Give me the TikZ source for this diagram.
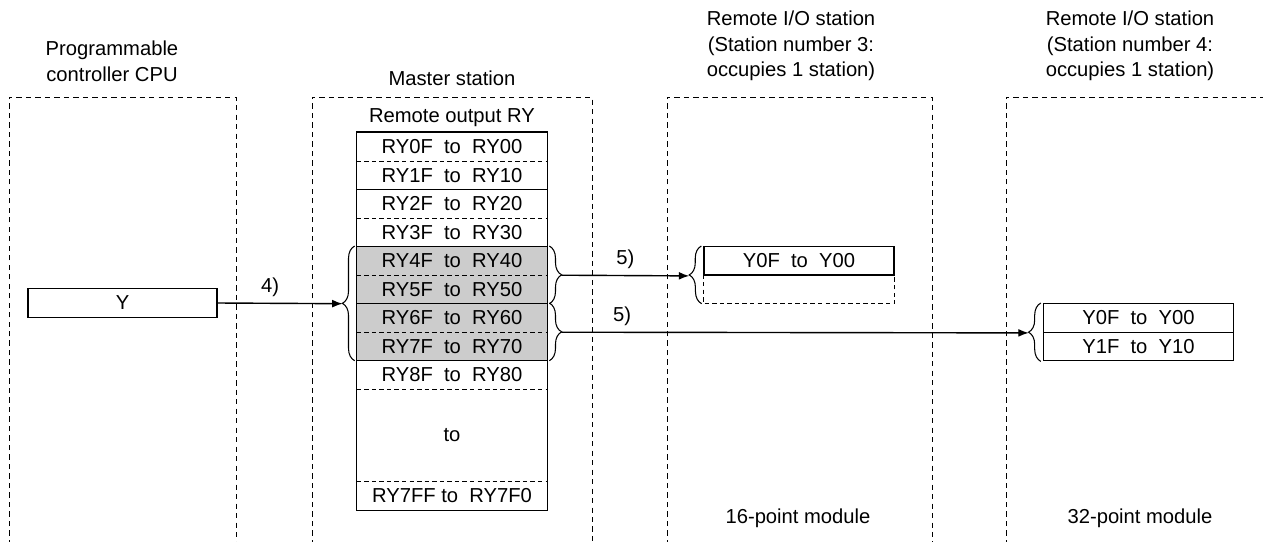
\documentclass[tikz,border=0pt]{standalone}
\usepackage{fontspec}
\setmainfont{Liberation Sans}
\usetikzlibrary{calc,arrows.meta,decorations.pathreplacing}
\definecolor{shade}{gray}{0.8}
\tikzset{every node/.append style={font=\fontsize{11.5}{14.5}\selectfont}}
\tikzset{
  region/.style={dash pattern=on 3pt off 2.4pt, line width=0.5pt},
  fine/.style={dash pattern=on 2.5pt off 1.8pt, line width=0.5pt},
  rybox/.style={minimum width=3.8cm, minimum height=0.57cm, inner sep=0pt, anchor=north},
  ybox/.style={draw, line width=0.8pt, minimum width=3.8cm, minimum height=0.57cm, inner sep=0pt, anchor=north},
  bracket/.style={decorate, decoration={brace, amplitude=7pt}, line width=0.6pt},
}

\begin{document}
\begin{tikzpicture}[x=0.02cm, y=-0.02cm, >={Latex[length=6pt,width=4.5pt]}]
    \useasboundingbox (0,0) rectangle (1263,541);
    \draw[region] (9,545) |- (236,97) -- (236,545);
    \draw[region] (312,545) |- (592,97) -- (592,545);
    \draw[region] (667,545) |- (932,97) -- (932,545);
    \draw[region] (1006,545) |- (1270,97);
    \node[align=center] (cputitle) at (112,61.5) {Programmable\\controller CPU};
    \node (mtitle) at (452,78) {Master station};
    \node[align=center] (io3title) at (791,46) {Remote I/O station\\(Station number 3:\\occupies 1 station)};
    \node[align=center] (io4title) at (1130,46) {Remote I/O station\\(Station number 4:\\occupies 1 station)};
    \node (rytitle) at (452,118) {Remote output RY};
    \node (mod16) at (798,518) {16-point module};
    \node (mod32) at (1140,518) {32-point module};
    \node[draw, line width=0.8pt, minimum width=3.78cm, minimum height=0.58cm, inner sep=0pt] (ybox) at (122.5,303) {Y};
    \foreach \i/\c in {0/white,1/white,2/white,3/white,4/shade,5/shade,6/shade,7/shade,8/white}
        \node[rybox, fill=\c] (r\i) at (452,{132+28.5*\i}) {RY\i F\ \ to\ \ RY\i 0};
    \node[rybox, minimum height=1.85cm] (rto) at (452,388.5) {to};
    \node[rybox, minimum height=0.58cm] (rend) at (452,481) {RY7FF to\ \ RY7F0};
    \foreach \i in {0,2,4,6,8}
        \draw[fine] (r\i.south west) -- (r\i.south east);
    \foreach \i in {1,3,5,7}
        \draw[line width=0.8pt] (r\i.south west) -- (r\i.south east);
    \draw[fine] (rto.south west) -- (rto.south east);
    \draw[line width=0.8pt] (r0.north west) rectangle (rend.south east);
    % remote I/O stations
    \node[ybox] (a0) at (799,246) {Y0F\ \ to\ \ Y00\hspace{11pt}};
    \node[rybox] (a1) at (799,274.5) {};
    \draw[fine] (a1.north west) |- (a1.south east) -- (a1.north east);
    \node[ybox] (b0) at (1138.5,303) {Y0F\ \ to\ \ Y00\hspace{11pt}};
    \node[ybox] (b1) at (1138.5,331.5) {Y1F\ \ to\ \ Y10\hspace{11pt}};
    % braces
    \draw[bracket] ($(r7.south west)+(-2,0)$) -- ($(r4.north west)+(-2,0)$);
    \draw[bracket] ($(r4.north east)+(2,0)$) -- ($(r5.south east)+(2,0)$);
    \draw[bracket] ($(r6.north east)+(2,0)$) -- ($(r7.south east)+(2,0)$);
    \draw[bracket] ($(a1.south west)+(-2,0)$) -- ($(a0.north west)+(-2,0)$);
    \draw[bracket] ($(b1.south west)+(-2,0)$) -- ($(b0.north west)+(-2,0)$);
    \coordinate (intip) at ($(r5.south west)+(-14,0)$);
    \coordinate (uptip) at ($(r4.south east)+(14,0)$);
    \coordinate (lowtip) at ($(r6.south east)+(14,0)$);
    \coordinate (atip) at ($(a0.south west)+(-14,0)$);
    \coordinate (btip) at ($(b0.south west)+(-14,0)$);
    \draw[->, line width=0.8pt] (ybox.east) -- node[above, pos=0.42] {4)} (intip);
    \draw[->, line width=0.8pt] (uptip) -- node[above] {5)} (atip);
    \draw[->, line width=0.8pt] (lowtip) -- node[above, pos=0.13] {5)} (btip);
\end{tikzpicture}
\end{document}
